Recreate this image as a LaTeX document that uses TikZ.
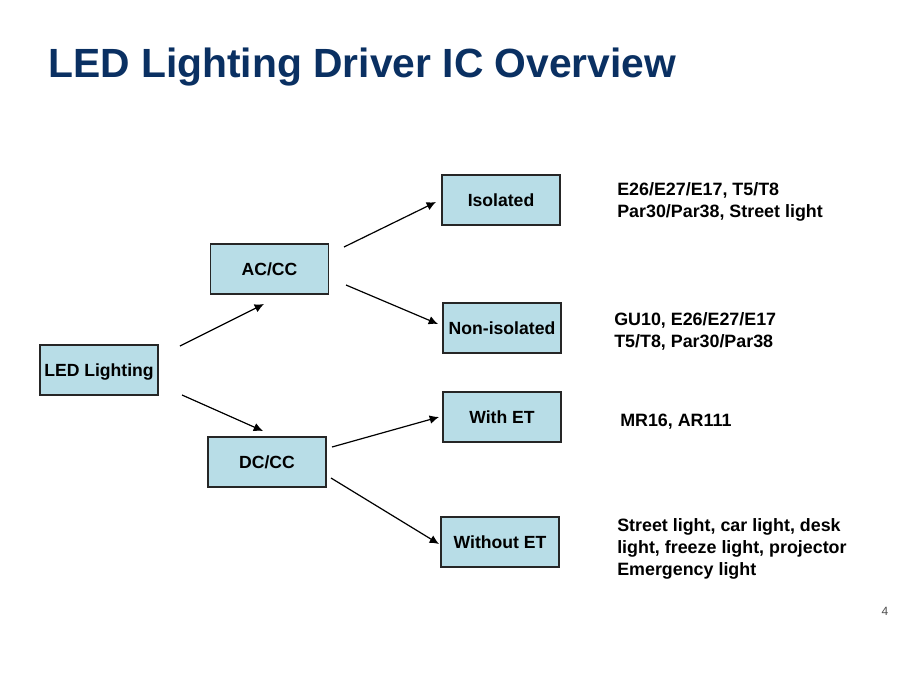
\documentclass[tikz,border=0pt]{standalone}
\usepackage{fontspec}
\setmainfont{Liberation Sans}
\usetikzlibrary{arrows.meta}
\definecolor{boxfill}{RGB}{184,221,231}
\definecolor{titleblue}{RGB}{10,48,98}
\tikzset{
  catbox/.style={draw=black!85, line width=1.1pt, fill=boxfill, minimum width=88.5pt, minimum height=37.5pt, inner sep=0pt, text height=12.5pt, text depth=2.7pt, font=\fontsize{13.2}{15}\selectfont\bfseries},
  conn/.style={line width=0.9pt, -{Latex[length=7pt,width=6.5pt]}},
  apptext/.style={anchor=west, align=left, inner sep=0pt, font=\fontsize{13.4}{16.5}\selectfont\bfseries}
}
\begin{document}
\begin{tikzpicture}[x=0.75pt,y=-0.75pt]
\useasboundingbox[fill=white] (0,0) rectangle (920,690);
\node[anchor=base west, inner sep=0pt, text=titleblue, font=\fontsize{30.6}{34}\selectfont\bfseries] (title) at (48,77) {LED Lighting Driver IC Overview};

\node[catbox] (led) at (99,370) {LED Lighting};
\node[catbox] (ac) at (269.5,269) {AC/CC};
\node[catbox] (dc) at (267,462) {DC/CC};
\node[catbox] (iso) at (501,200) {Isolated};
\node[catbox] (non) at (502,328) {Non-isolated};
\node[catbox] (with) at (502,417) {With ET};
\node[catbox] (without) at (500,542) {Without ET};

\coordinate (a1s) at (180,346); \coordinate (a1e) at (264,304);
\coordinate (a2s) at (182,395); \coordinate (a2e) at (263,431);
\coordinate (a3s) at (344,247); \coordinate (a3e) at (436,202);
\coordinate (a4s) at (346,285); \coordinate (a4e) at (438,324);
\coordinate (a5s) at (332,447); \coordinate (a5e) at (439,417);
\coordinate (a6s) at (331,478); \coordinate (a6e) at (439,544);
\draw[conn] (a1s) -- (a1e);
\draw[conn] (a2s) -- (a2e);
\draw[conn] (a3s) -- (a3e);
\draw[conn] (a4s) -- (a4e);
\draw[conn] (a5s) -- (a5e);
\draw[conn] (a6s) -- (a6e);

\node[apptext] (t1) at (617,202) {E26/E27/E17, T5/T8\\Par30/Par38, Street light};
\node[apptext] (t2) at (614,331) {GU10, E26/E27/E17\\T5/T8, Par30/Par38};
\node[apptext] (t3) at (620,422) {MR16, AR111};
\node[apptext] (t4) at (617,549) {Street light, car light, desk\\light, freeze light, projector\\Emergency light};

\node[anchor=center, inner sep=0pt, text=black!70, font=\fontsize{9}{10}\selectfont] (pg) at (885,611) {4};
\end{tikzpicture}
\end{document}
